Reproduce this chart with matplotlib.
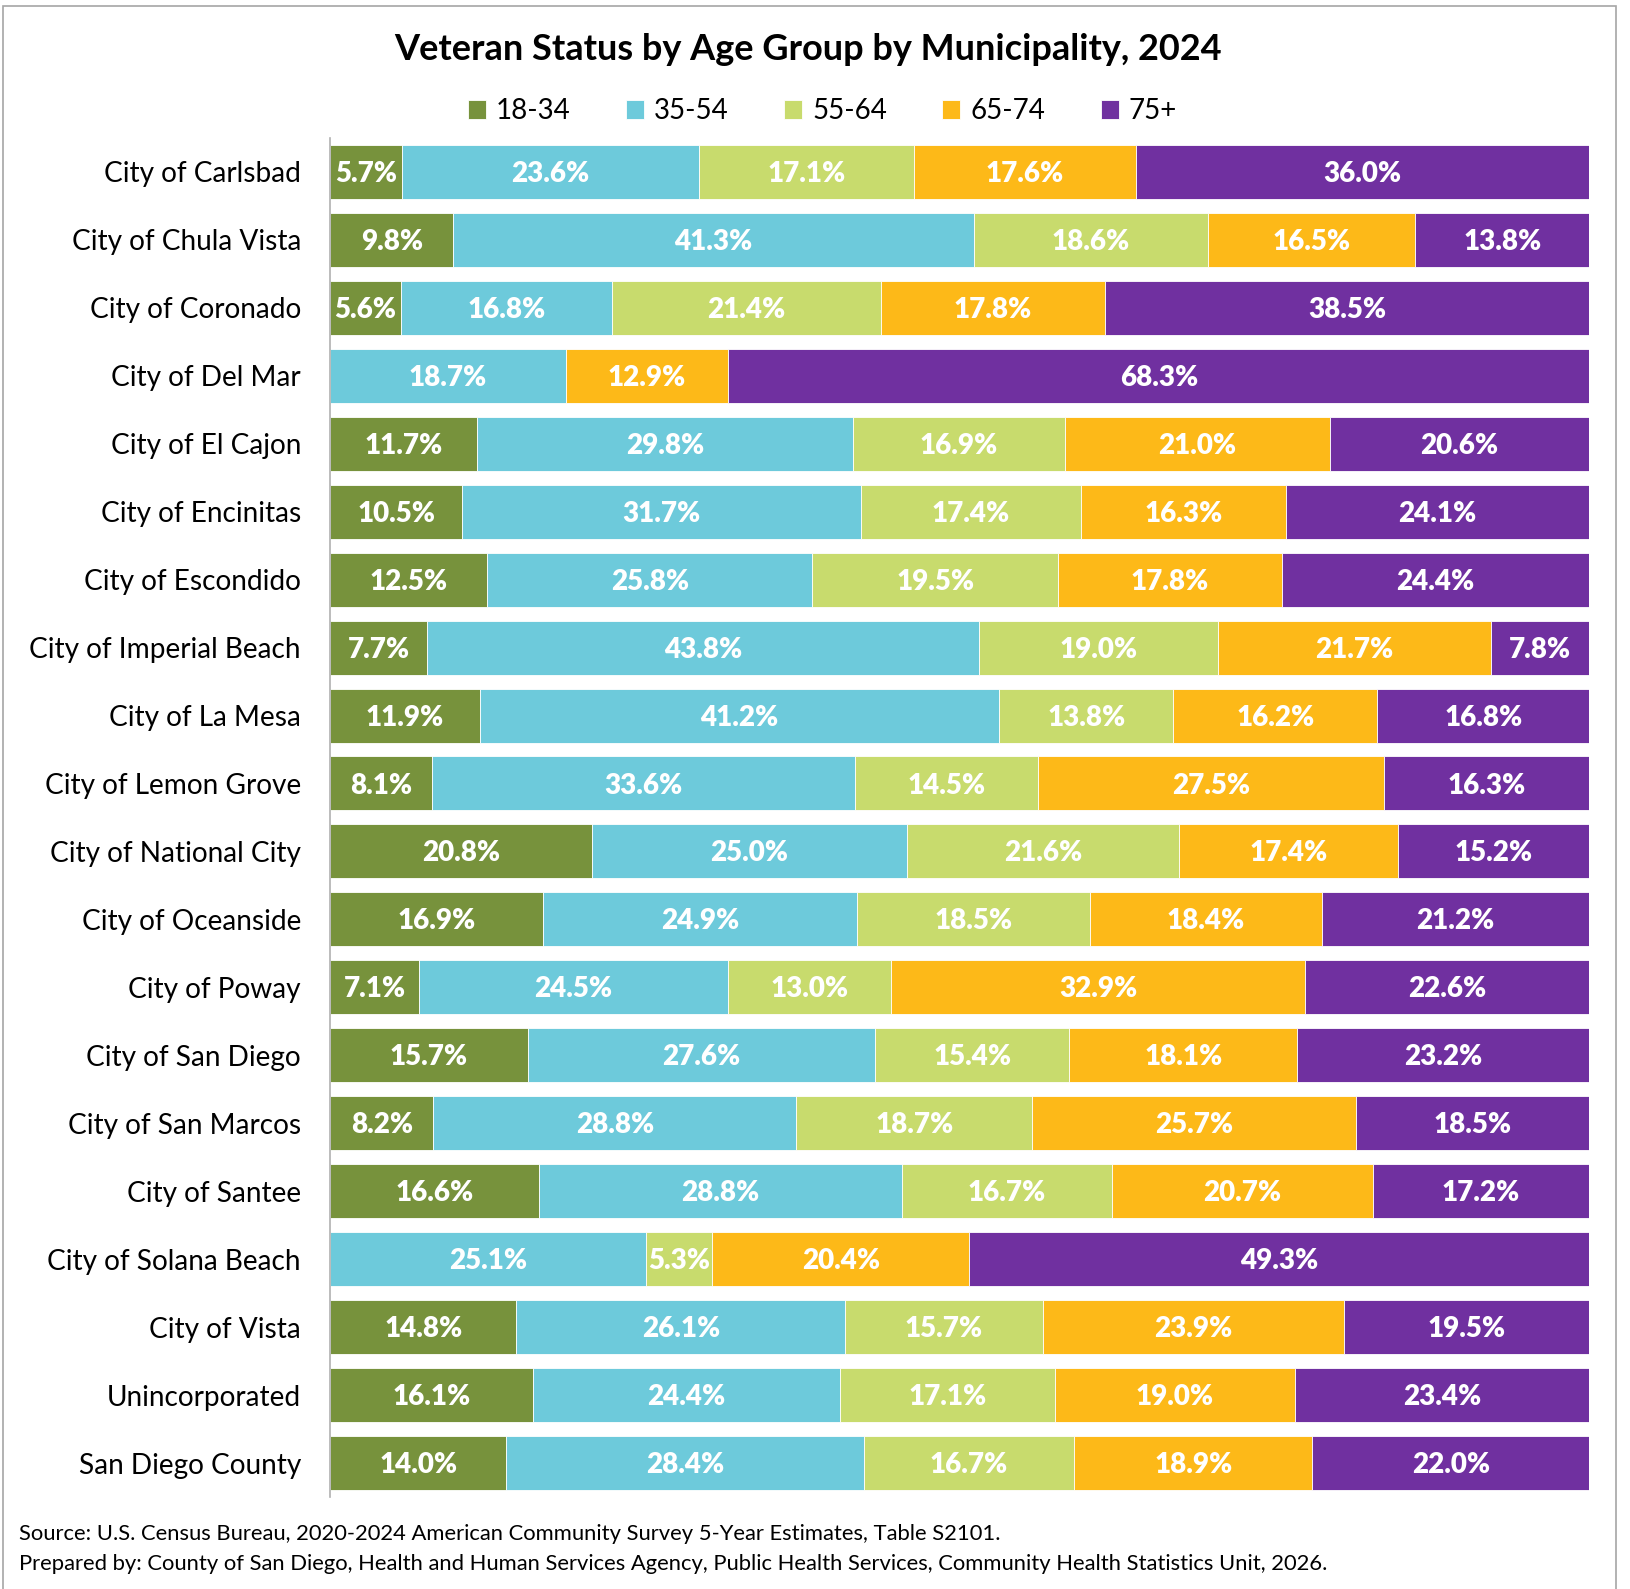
import numpy as np
import matplotlib.pyplot as plt
from matplotlib.patches import Rectangle

plt.rcParams['font.family'] = ['Lato', 'DejaVu Sans']

places = ['City of Carlsbad', 'City of Chula Vista', 'City of Coronado', 'City of Del Mar',
          'City of El Cajon', 'City of Encinitas', 'City of Escondido', 'City of Imperial Beach',
          'City of La Mesa', 'City of Lemon Grove', 'City of National City', 'City of Oceanside',
          'City of Poway', 'City of San Diego', 'City of San Marcos', 'City of Santee',
          'City of Solana Beach', 'City of Vista', 'Unincorporated', 'San Diego County']
age_groups = ['18-34', '35-54', '55-64', '65-74', '75+']

age_18_34 = [5.7, 9.8, 5.6, 0.0, 11.7, 10.5, 12.5, 7.7, 11.9, 8.1, 20.8, 16.9, 7.1, 15.7, 8.2, 16.6, 0.0, 14.8, 16.1, 14.0]
age_35_54 = [23.6, 41.3, 16.8, 18.7, 29.8, 31.7, 25.8, 43.8, 41.2, 33.6, 25.0, 24.9, 24.5, 27.6, 28.8, 28.8, 25.1, 26.1, 24.4, 28.4]
age_55_64 = [17.1, 18.6, 21.4, 0.0, 16.9, 17.4, 19.5, 19.0, 13.8, 14.5, 21.6, 18.5, 13.0, 15.4, 18.7, 16.7, 5.3, 15.7, 17.1, 16.7]
age_65_74 = [17.6, 16.5, 17.8, 12.9, 21.0, 16.3, 17.8, 21.7, 16.2, 27.5, 17.4, 18.4, 32.9, 18.1, 25.7, 20.7, 20.4, 23.9, 19.0, 18.9]
age_75_up = [36.0, 13.8, 38.5, 68.3, 20.6, 24.1, 24.4, 7.8, 16.8, 16.3, 15.2, 21.2, 22.6, 23.2, 18.5, 17.2, 49.3, 19.5, 23.4, 22.0]

colors = ['#77923C', '#6DCADB', '#C8DB6D', '#FDB918', '#7030A0']

vals = np.array([age_18_34, age_35_54, age_55_64, age_65_74, age_75_up])
# 100% stacked: each row scaled to its own total
shares = vals / vals.sum(axis=0) * 100
y = np.arange(len(places))

fig = plt.figure(figsize=(16.3, 15.89), dpi=100)
ax = fig.add_axes([0.2025, 0.0579, 0.7725, 0.8553])

left = np.zeros(len(places))
for i, grp in enumerate(age_groups):
    ax.barh(y, shares[i], left=left, height=0.795, color=colors[i],
            edgecolor='white', linewidth=0.6, label=grp)
    for j in range(len(places)):
        if vals[i, j] > 0:
            ax.text(left[j] + shares[i, j] / 2, y[j] + 0.03, f'{vals[i, j]:.1f}%',
                    ha='center', va='center', color='white', fontsize=20,
                    fontweight='heavy')
    left += shares[i]

ax.set_xlim(0, 100)
ax.set_ylim(len(places) - 0.5, -0.5)
ax.set_yticks(y)
ax.set_yticklabels(places, fontsize=20.2)
ax.set_xticks([])
ax.tick_params(axis='y', length=0, pad=21)
for s in ['top', 'right', 'bottom']:
    ax.spines[s].set_visible(False)
ax.spines['left'].set_color('#b0b0b0')
ax.spines['left'].set_linewidth(1.2)

fig.text(0.496, 0.969, 'Veteran Status by Age Group by Municipality, 2024',
         ha='center', va='center', fontsize=26, fontweight='bold')

fig.legend(loc='center', bbox_to_anchor=(0.5045, 0.930), ncol=5, frameon=False,
           fontsize=20, handlelength=0.65, handleheight=0.65, handletextpad=0.35,
           columnspacing=2.0)

fig.text(0.0117, 0.0347, 'Source: U.S. Census Bureau, 2020-2024 American Community Survey 5-Year Estimates, Table S2101.',
         ha='left', va='center', fontsize=15.8)
fig.text(0.0117, 0.0158, 'Prepared by: County of San Diego, Health and Human Services Agency, Public Health Services, Community Health Statistics Unit, 2026.',
         ha='left', va='center', fontsize=15.8)

fig.patches.append(Rectangle((0.002, -0.01), 0.9895, 1.006, transform=fig.transFigure,
                             fill=False, edgecolor='#a6a6a6', linewidth=1.2))

fig.savefig('out.png', dpi=100)
